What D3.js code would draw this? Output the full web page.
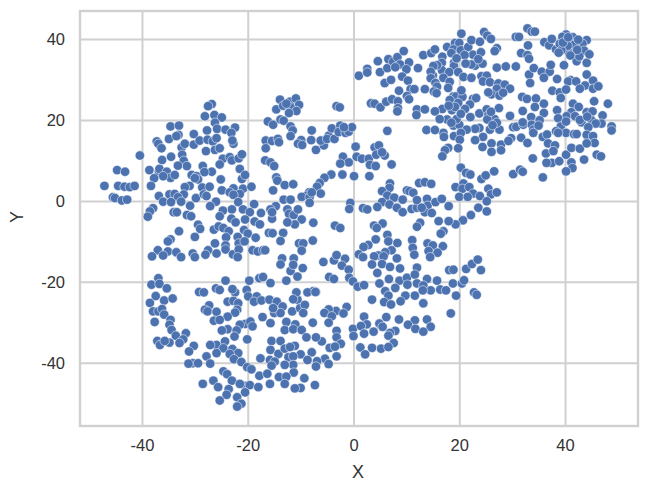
<!DOCTYPE html>
<html><head><meta charset="utf-8">
<script src="https://cdnjs.cloudflare.com/ajax/libs/d3/7.8.5/d3.min.js"></script>
<style>html,body{margin:0;padding:0;background:#fff}svg{display:block}</style>
</head><body><svg id="c" width="647" height="493"></svg>
<script>
const xTicks=[-40,-20,0,20,40];
const yTicks=[-40,-20,0,20,40];
const west=[[-26.8,23.9],[-27.5,23.4],[-28.1,20.9],[-26.3,21.2],[-24.9,20.6],[-26.2,19.3],[-25.8,17.8],[-24.2,17.6],[-22.4,18.1],[-23.1,16.8],[-34.6,18.4],[-33.0,18.6],[-33.1,16.3],[-34.9,15.3],[-33.5,16.0],[-37.2,14.7],[-36.9,14.1],[-36.3,13.0],[-32.5,13.2],[-31.9,14.1],[-30.2,16.5],[-30.2,13.9],[-29.1,14.9],[-27.7,17.4],[-27.6,15.1],[-26.6,14.7],[-25.9,15.5],[-27.9,12.3],[-26.2,12.6],[-25.3,13.0],[-22.7,14.1],[-22.9,14.9],[-40.4,11.2],[-36.2,10.1],[-34.5,10.9],[-32.4,11.4],[-32.1,9.9],[-31.5,8.6],[-33.2,8.7],[-24.7,10.4],[-23.4,10.8],[-23.0,10.0],[-21.7,10.5],[-21.1,11.5],[-25.3,9.0],[-38.6,7.6],[-36.8,7.2],[-36.7,7.9],[-35.3,7.2],[-34.6,5.7],[-36.0,6.1],[-37.7,5.6],[-33.8,6.4],[-28.5,8.6],[-26.8,7.2],[-28.2,7.1],[-30.6,6.4],[-29.7,6.1],[-29.4,5.3],[-30.0,5.6],[-21.5,7.9],[-21.1,5.4],[-20.5,6.4],[-25.1,5.3],[-44.7,7.6],[-43.2,7.2],[-47.1,3.7],[-44.5,3.7],[-43.3,3.5],[-42.3,3.4],[-41.4,3.7],[-38.3,3.7],[-31.0,3.7],[-31.9,3.4],[-28.6,3.3],[-27.2,3.5],[-24.9,2.6],[-22.7,3.1],[-20.9,3.0],[-19.3,3.5],[-23.4,2.1],[-21.5,1.7],[-22.7,1.5],[-45.5,0.9],[-45.1,0.7],[-43.8,0.1],[-42.8,0.3],[-36.8,1.2],[-36.0,-0.2],[-34.8,1.6],[-33.8,1.7],[-32.1,1.6],[-33.2,0.9],[-34.5,-0.3],[-32.6,-0.2],[-29.8,0.7],[-28.3,1.6],[-27.8,1.2],[-26.0,-0.2],[-27.1,-1.3],[-30.9,-1.2],[-21.8,-0.3],[-20.9,-2.1],[-23.0,-2.1],[-18.8,-0.8],[-37.9,-1.8],[-38.5,-2.6],[-38.9,-3.9],[-34.0,-2.8],[-33.4,-2.8],[-31.5,-3.5],[-30.7,-3.8],[-24.7,-2.4],[-25.3,-3.8],[-23.1,-4.4],[-22.3,-5.3],[-19.6,-2.8],[-17.5,-3.0],[-20.5,-4.6],[-18.7,-5.1],[-17.7,-5.8],[-29.4,-5.9],[-29.0,-6.9],[-33.0,-7.5],[-30.0,-8.9],[-26.4,-7.1],[-25.5,-6.3],[-24.6,-6.7],[-23.6,-7.5],[-24.1,-9.0],[-21.9,-8.9],[-20.7,-7.2],[-20.0,-8.1],[-18.5,-9.1],[-16.0,-7.9],[-34.6,-9.5],[-35.1,-10.0],[-26.2,-10.5],[-24.2,-11.0],[-21.7,-10.5],[-20.6,-10.0],[-37.0,-12.2],[-35.1,-12.5],[-38.1,-13.7],[-36.0,-13.5],[-33.5,-12.7],[-30.4,-13.0],[-27.5,-12.2],[-25.9,-13.0],[-28.0,-13.3],[-24.2,-12.0],[-22.8,-13.2],[-21.7,-12.0],[-19.1,-12.2],[-18.1,-12.5],[-17.1,-12.2],[-32.6,-13.9],[-30.0,-13.9],[-21.9,-13.9]];
const centre=[[-13.9,25.0],[-14.6,22.6],[-13.3,23.5],[-12.0,24.5],[-10.9,25.3],[-10.3,23.7],[-11.9,23.1],[-10.8,22.2],[-12.2,21.7],[-12.7,24.0],[-3.2,23.4],[-2.6,23.1],[-16.2,19.6],[-15.2,18.8],[-13.8,20.1],[-13.2,19.8],[-11.9,18.4],[-11.5,17.4],[-11.9,16.0],[-16.6,14.9],[-15.4,14.8],[-14.3,15.3],[-14.1,14.5],[-16.6,13.0],[-7.9,17.4],[-9.9,15.0],[-8.0,15.0],[-10.5,14.1],[-9.7,13.8],[-7.1,12.6],[-5.6,13.7],[-6.2,14.9],[-4.7,16.1],[-5.0,15.3],[-3.6,15.3],[-4.1,17.9],[-2.5,18.6],[-2.8,17.0],[-1.5,16.8],[-0.9,17.1],[-0.3,18.2],[-1.8,18.2],[0.4,13.4],[-2.0,10.9],[0.6,10.9],[-0.9,9.5],[-2.5,9.2],[1.6,10.4],[2.9,10.4],[3.1,8.9],[4.2,8.6],[4.0,13.2],[4.8,13.7],[4.3,11.4],[5.9,11.2],[5.4,12.0],[7.2,9.0],[-16.7,10.0],[-15.7,9.5],[-15.0,8.6],[-14.6,5.8],[-14.4,5.0],[-13.0,3.9],[-11.4,4.1],[-15.2,2.6],[-8.4,2.1],[-8.8,1.3],[-9.8,1.0],[-8.3,0.9],[-8.3,-0.5],[-13.2,0.3],[-11.9,0.3],[-14.7,-1.3],[-15.7,-2.1],[-15.4,-4.4],[-15.4,-2.8],[-12.5,-2.1],[-12.2,-3.2],[-11.3,-3.5],[-10.5,-2.1],[-9.8,-4.6],[-11.1,-5.8],[-12.5,-5.3],[-15.3,-8.0],[-13.3,-7.9],[-13.8,-9.9],[-10.3,-10.5],[-9.5,-10.5],[-9.8,-12.3],[-13.5,-14.2],[-11.3,-14.2],[-16.7,-12.2]];
const northEast=[[20.4,41.3],[24.7,41.7],[25.3,40.8],[26.0,40.0],[32.9,42.6],[33.7,41.8],[34.3,41.8],[30.7,40.5],[31.3,40.5],[17.7,38.0],[19.2,39.0],[20.0,39.0],[18.9,37.4],[20.3,37.2],[21.7,38.0],[22.3,39.7],[23.9,39.3],[22.6,36.1],[24.1,36.7],[16.8,35.6],[19.0,34.1],[19.0,33.3],[27.1,37.7],[26.7,37.0],[33.0,38.4],[31.7,36.5],[32.9,36.0],[33.2,35.1],[23.0,33.4],[24.4,33.9],[22.3,33.7],[27.1,32.9],[28.8,33.2],[30.7,33.2],[16.7,34.1],[16.7,32.3],[18.1,31.8],[19.8,31.8],[17.0,30.4],[20.8,30.6],[22.3,30.4],[24.2,30.8],[25.2,30.9],[24.5,29.5],[25.8,29.3],[18.2,29.4],[17.9,27.9],[33.2,31.2],[34.1,32.8],[35.6,31.9],[37.1,31.9],[37.3,33.6],[36.0,30.4],[33.4,29.1],[27.4,29.0],[28.6,28.7],[27.1,27.7],[29.6,27.7],[26.1,26.3],[27.6,26.0],[28.3,26.7],[25.5,26.8],[18.9,25.8],[19.4,25.8],[20.6,25.7],[20.4,27.3],[18.2,24.9],[19.8,24.2],[22.6,25.2],[23.2,25.4],[22.0,23.8],[31.9,25.7],[32.8,25.2],[34.5,25.3],[36.0,24.0],[34.3,23.2],[32.0,22.2],[36.0,21.7],[33.6,20.7],[35.2,19.9],[38.5,22.4],[16.8,22.7],[18.6,22.4],[19.2,23.2],[21.1,22.7],[22.1,20.7],[23.8,21.6],[25.2,22.6],[27.5,22.9],[25.5,21.1],[26.7,20.2],[25.3,20.1],[29.6,21.0],[17.7,20.1],[18.9,18.6],[20.0,18.8],[19.5,20.2],[30.2,18.2],[30.8,18.3],[32.1,18.8],[33.7,18.8],[34.0,17.6],[32.0,19.4],[34.0,16.8],[23.8,18.0],[23.0,17.8],[21.4,17.6],[25.8,17.6],[27.6,17.6],[27.1,19.3],[17.0,16.8],[17.1,15.8],[19.0,16.0],[20.3,16.8],[20.1,15.1],[24.5,15.8],[23.0,15.0],[24.4,13.3],[26.1,14.2],[27.9,13.9],[29.8,15.5],[29.3,14.8],[31.7,15.6],[32.9,14.3],[35.8,15.8],[36.6,16.4],[36.8,14.2],[27.9,12.5],[26.1,12.1],[17.9,13.1],[17.3,12.5],[19.8,13.0],[16.8,11.0],[33.9,10.5],[36.4,11.7],[38.1,13.7],[37.8,12.3],[37.5,9.4],[36.5,9.4],[38.9,9.8],[40.2,11.4],[41.2,13.1],[42.8,12.9],[43.6,10.2],[41.2,9.5],[41.4,8.1],[40.2,7.3],[46.0,11.4],[46.8,11.0],[20.3,8.2],[21.3,6.9],[22.1,6.5],[24.2,5.4],[25.0,6.3],[26.6,7.3],[30.2,6.6],[31.5,7.7],[32.0,7.2],[35.8,5.8],[19.3,3.4],[20.8,4.3],[20.6,3.0],[21.9,3.4],[25.5,3.0],[36.1,39.2],[37.0,38.4],[37.5,40.0],[38.3,37.4],[40.0,39.8],[40.2,41.1],[41.5,40.4],[44.1,39.7],[43.3,38.8],[39.0,38.8],[41.2,37.8],[40.3,37.4],[43.6,37.1],[41.5,36.0],[42.2,34.5],[44.1,34.1],[39.8,33.5],[40.8,36.5],[42.7,35.7],[44.1,31.2],[38.5,30.1],[41.1,29.8],[40.6,29.5],[42.1,29.5],[45.3,29.7],[43.8,28.5],[42.8,27.7],[45.3,27.7],[46.3,28.3],[37.6,27.2],[39.0,26.8],[40.2,27.5],[39.2,25.4],[45.5,24.6],[48.1,24.0],[41.5,24.0],[42.6,23.2],[41.2,21.9],[44.1,21.9],[45.2,22.1],[40.3,20.9],[41.9,20.9],[38.7,20.4],[47.1,21.1],[45.0,19.9],[43.1,19.4],[46.9,19.1],[45.8,19.1],[48.8,18.4],[48.8,17.4],[39.2,18.4],[38.3,17.2],[40.2,16.8],[38.7,16.8],[41.7,16.5],[42.2,16.5],[44.4,18.2],[44.1,16.3],[45.3,16.0],[45.6,14.3],[44.1,14.2]];
const crowded=[[39.5,40.5],[40.8,39.2],[41.8,38.6],[40.5,38.3],[39.3,37.2],[42.3,37.3],[41.0,35.9],[39.6,39.1],[42.5,39.8],[38.8,36.6],[44.6,36.2],[40.6,40.4],[18.5,36.5],[21.0,36.0],[19.5,35.2],[21.2,33.9],[18.0,23.5],[20.3,21.5],[18.5,19.3],[15.8,33.5],[15.0,31.0],[23.6,35.0],[42.8,20.0],[44.2,20.8],[40.2,19.6],[35.0,18.6],[26.3,18.7],[26.0,22.0]];
const north=[[1.0,30.9],[2.6,32.6],[2.6,31.7],[4.6,34.5],[5.0,31.8],[6.4,32.8],[6.6,35.0],[7.5,34.4],[8.3,35.5],[8.8,33.7],[9.5,37.0],[10.5,34.2],[10.0,32.5],[7.9,33.0],[5.9,29.1],[7.1,29.9],[9.2,30.7],[10.3,29.7],[8.6,27.2],[10.8,27.6],[11.5,27.6],[10.1,25.9],[10.5,25.1],[13.2,36.0],[14.7,36.5],[15.4,37.4],[12.2,32.8],[13.5,27.6],[3.3,24.1],[4.0,24.0],[5.1,23.1],[6.2,24.5],[7.3,25.1],[8.4,24.6],[8.4,22.9],[8.3,22.1],[12.0,22.6],[11.9,21.2],[13.5,22.6],[15.4,22.1],[15.1,33.3],[14.6,31.9],[14.6,30.3],[15.5,29.1],[15.8,28.2],[15.2,27.0],[15.7,26.6],[6.4,17.3],[13.8,17.5],[15.4,17.5],[16.3,20.2]];
const south=[[-4.2,6.5],[-2.1,6.5],[0.1,6.1],[3.0,6.1],[-5.5,5.7],[-6.4,4.4],[-6.9,3.5],[-6.2,1.8],[-7.9,2.1],[12.4,4.4],[13.5,4.6],[14.7,4.2],[22.6,1.8],[20.0,1.0],[21.6,1.0],[6.9,4.3],[6.8,3.2],[5.4,2.4],[6.4,1.3],[7.7,0.8],[5.4,-0.3],[4.5,-1.5],[6.8,-0.9],[8.2,-1.7],[9.3,-2.8],[11.0,-2.0],[12.0,-1.7],[10.1,2.6],[10.6,2.4],[11.3,2.0],[9.3,0.3],[12.0,0.2],[13.9,0.5],[14.0,-1.2],[15.5,-0.3],[16.7,0.5],[18.0,-1.3],[13.5,-2.8],[14.8,-3.0],[16.1,-5.0],[12.9,-1.7],[-0.6,-0.5],[-0.8,-2.0],[1.8,-1.8],[2.6,-2.1],[23.6,-1.7],[23.9,1.2],[26.0,1.6],[25.2,-0.1],[25.2,-2.6],[27.1,2.1],[22.2,-3.5],[20.7,-4.8],[19.3,-5.8],[18.0,-5.0],[17.0,-7.5],[16.5,-8.1],[-7.6,-5.4],[-3.5,-6.1],[-2.5,-6.7],[-7.7,-9.8],[3.9,-6.1],[5.5,-5.6],[4.4,-6.7],[12.6,-5.4],[12.0,-6.4],[6.4,-8.4],[4.2,-9.5],[6.6,-10.0],[8.3,-10.4],[2.8,-10.9],[1.9,-11.4],[1.0,-13.2],[1.8,-13.9],[7.2,-12.2],[6.0,-12.7],[4.7,-13.5],[3.9,-13.7],[5.7,-13.7],[8.2,-14.2],[11.1,-9.7],[11.2,-11.6],[11.5,-13.3],[14.0,-10.5],[15.0,-11.0],[14.2,-12.4],[16.9,-11.2],[15.9,-12.8],[14.5,-13.9],[-5.7,-15.1],[-3.7,-14.7],[-3.2,-13.4],[-1.6,-14.3],[-2.2,-16.0],[-0.9,-17.0],[-4.6,-18.8],[-3.7,-19.3],[-0.8,-19.0],[-0.1,-19.9],[0.8,-21.2],[2.0,-20.8],[3.5,-15.7],[5.4,-15.6],[6.9,-16.3],[8.8,-16.7],[12.0,-16.5],[4.5,-17.8],[6.7,-19.3],[8.7,-19.7],[10.1,-19.0],[11.6,-18.2],[13.9,-19.3],[15.8,-19.7],[12.0,-20.4],[4.9,-20.4],[7.9,-21.5],[10.2,-20.7],[13.2,-20.9],[14.6,-22.1],[16.4,-21.9],[17.5,-22.1],[18.1,-17.1],[18.9,-17.0],[21.3,-16.8],[22.4,-15.6],[23.5,-14.5],[24.1,-17.1],[18.8,-20.4],[20.5,-20.4],[20.9,-19.6],[19.4,-23.4],[22.8,-22.6],[23.3,-23.2],[13.1,-22.1],[11.6,-23.4],[9.8,-23.4],[8.9,-24.8],[6.0,-22.3],[6.6,-23.4],[5.8,-25.0],[7.1,-25.6],[3.5,-24.4],[13.2,-25.3],[18.4,-27.8],[-7.6,-22.3],[-7.1,-22.5],[-1.3,-26.2],[-3.3,-27.2],[-4.7,-26.8],[-5.5,-27.7],[-4.1,-28.5],[-1.9,-27.8],[-7.7,-30.1],[-4.7,-30.1],[-3.2,-32.1],[-3.2,-33.7],[-2.4,-35.3],[-6.0,-34.7],[-7.1,-33.7],[-4.5,-36.3],[-7.9,-37.4],[-3.5,-36.0],[-3.2,-38.4],[-5.4,-39.0],[2.0,-28.6],[6.2,-28.7],[8.6,-29.3],[11.6,-29.5],[13.9,-29.3],[2.5,-30.5],[-0.1,-31.6],[1.4,-30.9],[4.9,-30.3],[5.5,-31.1],[10.3,-30.6],[14.6,-31.1],[11.7,-31.6],[13.2,-32.3],[7.9,-32.1],[6.9,-32.6],[3.8,-32.3],[2.0,-32.8],[0.0,-33.4],[6.6,-33.3],[7.6,-35.1],[5.2,-36.5],[6.6,-36.1],[3.5,-36.3],[1.3,-36.2],[2.2,-37.9],[-6.9,-39.6],[-4.7,-40.3],[-10.0,-46.2]];
const southWest=[[-36.9,-19.1],[-38.2,-20.7],[-36.7,-20.5],[-35.3,-21.6],[-37.4,-23.5],[-35.8,-24.6],[-34.2,-24.1],[-38.5,-25.2],[-37.9,-27.3],[-36.9,-27.3],[-36.2,-26.7],[-35.8,-28.1],[-37.6,-29.9],[-34.6,-29.4],[-34.8,-30.6],[-34.4,-31.9],[-33.6,-33.3],[-31.7,-32.7],[-32.2,-34.2],[-32.9,-35.1],[-34.8,-35.0],[-37.1,-34.6],[-36.6,-35.6],[-35.7,-34.6],[-30.2,-35.8],[-31.1,-37.2],[-24.2,-19.7],[-26.0,-21.6],[-25.3,-22.0],[-29.2,-22.5],[-28.3,-22.6],[-22.4,-22.6],[-22.9,-21.8],[-23.8,-24.9],[-22.7,-24.7],[-21.8,-25.3],[-22.0,-26.9],[-22.4,-27.6],[-27.3,-25.8],[-28.1,-26.9],[-27.6,-27.3],[-25.9,-27.4],[-23.8,-28.6],[-26.4,-29.6],[-25.3,-29.4],[-19.7,-19.7],[-17.8,-19.1],[-17.1,-18.8],[-15.7,-20.3],[-20.2,-22.0],[-19.9,-23.6],[-18.3,-23.6],[-18.8,-24.9],[-17.4,-24.6],[-15.9,-24.4],[-14.5,-24.9],[-13.4,-26.1],[-15.0,-27.7],[-13.8,-27.7],[-15.2,-26.5],[-12.7,-19.7],[-13.8,-15.7],[-11.9,-17.3],[-10.6,-18.7],[-9.6,-16.6],[-11.4,-15.8],[-17.2,-28.7],[-15.7,-30.2],[-20.5,-30.4],[-19.5,-29.8],[-19.1,-31.0],[-21.5,-30.6],[-23.8,-31.7],[-24.9,-32.0],[-22.1,-32.0],[-22.5,-33.5],[-20.1,-34.2],[-11.6,-27.3],[-10.6,-24.4],[-10.8,-22.6],[-8.7,-22.6],[-7.2,-22.5],[-10.1,-26.5],[-9.2,-25.7],[-11.4,-24.3],[-9.5,-27.7],[-12.7,-29.9],[-11.0,-30.5],[-13.0,-31.9],[-11.4,-31.7],[-9.8,-31.9],[-15.5,-34.6],[-13.8,-34.6],[-15.7,-36.8],[-14.2,-37.8],[-13.0,-36.5],[-11.1,-35.8],[-12.0,-36.1],[-10.0,-37.9],[-8.9,-33.7],[-8.7,-39.3],[-7.1,-40.9],[-25.9,-35.6],[-27.1,-35.6],[-24.3,-34.7],[-24.6,-36.4],[-22.9,-36.6],[-21.8,-37.6],[-23.4,-37.8],[-27.8,-38.4],[-25.9,-37.6],[-27.1,-40.2],[-22.6,-39.1],[-21.2,-39.8],[-20.1,-41.1],[-19.3,-41.6],[-17.6,-38.9],[-15.8,-39.3],[-14.9,-39.7],[-12.3,-38.6],[-11.4,-38.4],[-15.5,-40.7],[-11.4,-40.5],[-13.0,-40.5],[-11.3,-42.4],[-17.8,-43.2],[-16.3,-42.7],[-14.1,-43.5],[-12.7,-43.4],[-9.3,-43.8],[-15.8,-45.2],[-13.0,-45.2],[-11.1,-46.3],[-7.3,-45.5],[-30.4,-40.1],[-31.2,-40.2],[-29.4,-40.1],[-24.6,-42.1],[-23.9,-42.8],[-26.5,-44.4],[-28.5,-45.2],[-23.0,-44.4],[-25.6,-46.0],[-23.6,-46.5],[-20.5,-45.7],[-21.5,-45.2],[-19.6,-45.5],[-18.0,-46.0],[-20.5,-47.3],[-24.0,-47.9],[-22.0,-48.5],[-25.3,-49.3],[-21.2,-50.1],[-22.0,-50.8]];
const points=[...west,...centre,...northEast,...crowded,...north,...south,...southWest];

const svg=d3.select('#c');
const box={l:80,r:638,t:11,b:426};
const x=d3.scaleLinear().domain([-51.72,53.8]).range([box.l,box.r]);
const y=d3.scaleLinear().domain([-55.6,46.9]).range([box.b,box.t]);
const font='"Liberation Sans",Arial,sans-serif', ink='#333', line='#d0d0d0';
const label=d=>String(d);

svg.append('g').attr('transform',`translate(0,${box.b})`)
  .call(d3.axisBottom(x).tickValues(xTicks).tickFormat(label).tickSize(-(box.b-box.t)).tickPadding(13))
  .call(g=>{g.select('.domain').remove();g.selectAll('line').attr('stroke',line).attr('stroke-width',2);
    g.selectAll('text').attr('font-family',font).attr('font-size',16.5).attr('fill',ink);});
svg.append('g').attr('transform',`translate(${box.l},0)`)
  .call(d3.axisLeft(y).tickValues(yTicks).tickFormat(label).tickSize(-(box.r-box.l)).tickPadding(15))
  .call(g=>{g.select('.domain').remove();g.selectAll('line').attr('stroke',line).attr('stroke-width',2);
    g.selectAll('text').attr('font-family',font).attr('font-size',16.5).attr('fill',ink);});
svg.append('rect').attr('x',box.l).attr('y',box.t).attr('width',box.r-box.l).attr('height',box.b-box.t)
  .attr('fill','none').attr('stroke',line).attr('stroke-width',2.4);
svg.append('g').selectAll('circle').data(points).join('circle')
  .attr('cx',d=>x(d[0])).attr('cy',d=>y(d[1])).attr('r',4.7)
  .attr('fill','#4c72b0').attr('stroke','#fff').attr('stroke-opacity',.75).attr('stroke-width',.7);
svg.append('text').attr('x',358).attr('y',478).attr('text-anchor','middle').attr('font-family',font).attr('font-size',18).attr('fill',ink).text('X');
svg.append('text').attr('transform','translate(23,217) rotate(-90)').attr('text-anchor','middle').attr('font-family',font).attr('font-size',18).attr('fill',ink).text('Y');
</script></body></html>
